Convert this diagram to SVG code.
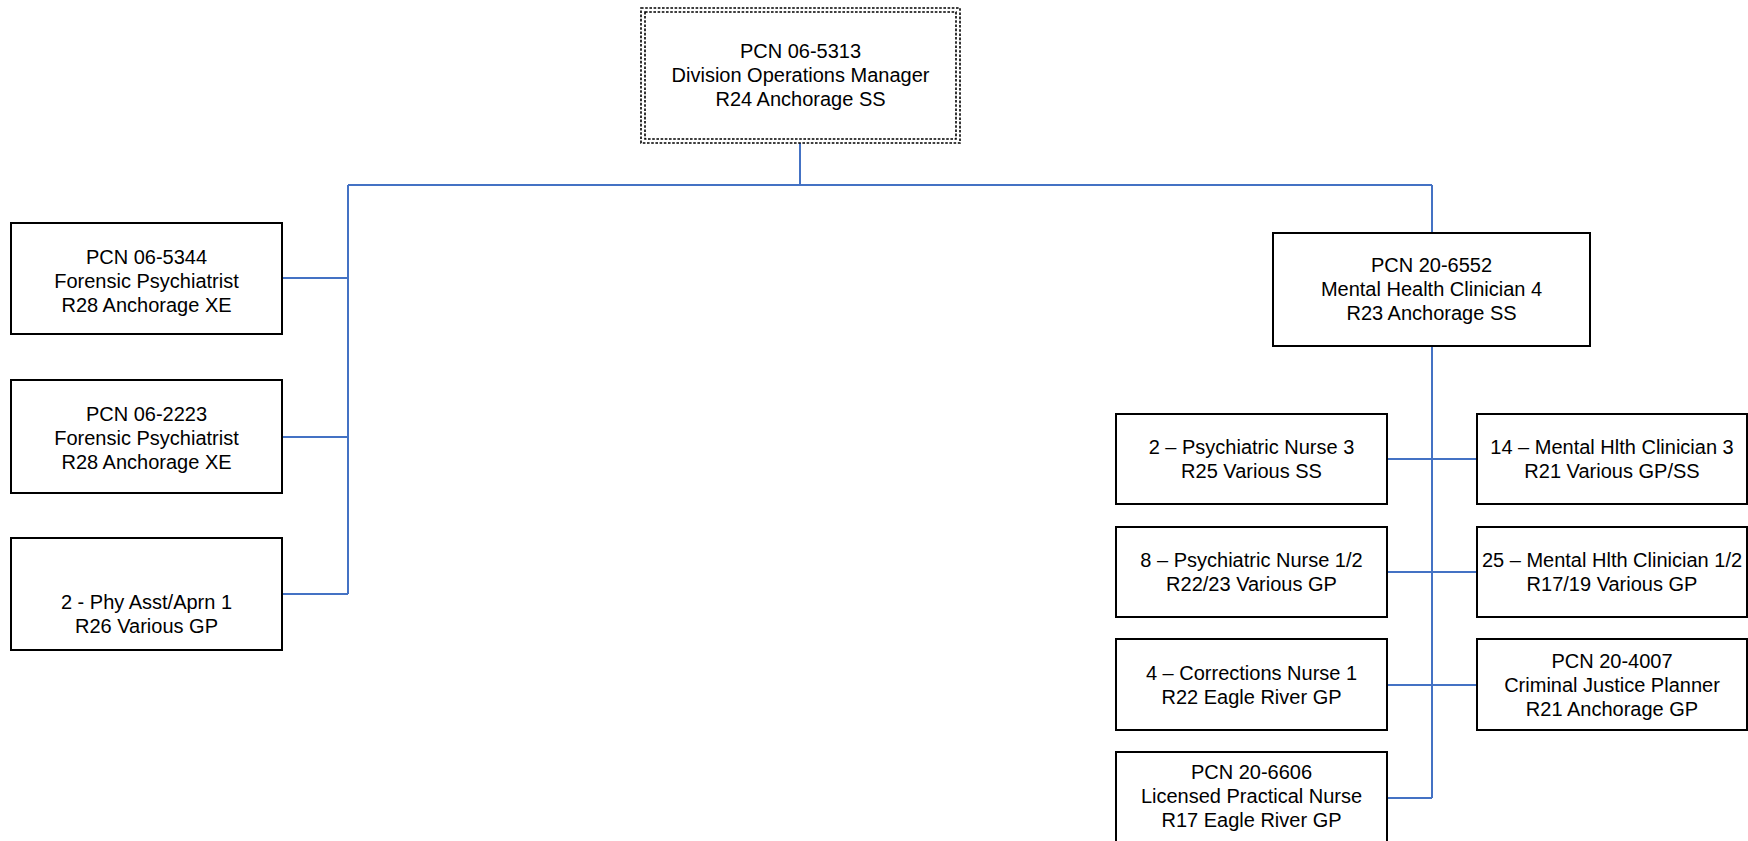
<svg xmlns="http://www.w3.org/2000/svg" width="1748" height="841" viewBox="0 0 1748 841">
<style>
.box{fill:#fff;stroke:#000;stroke-width:2}
.dot{fill:none;stroke:#000;stroke-width:1.6;stroke-dasharray:2.6 1.6}
.t{font-family:"Liberation Sans",Arial,sans-serif;font-size:20px;fill:#000;text-anchor:middle}
.c{fill:none;stroke:#4472C4;stroke-width:2}
</style>
<rect width="1748" height="841" fill="#fff"/>
<g id="connectors">
<path class="c" d="M800 143V185M348 185H1432M348 185V594M282 278H348M282 437H348M282 594H348M1432 185V233"/>
<path class="c" d="M1432 346V798M1387 459H1477M1387 572H1477M1387 685H1477M1387 798H1432"/>
</g>
<g id="n0">
<rect x="641" y="8" width="319" height="135" fill="#fff" class="dot"/>
<rect x="645" y="12" width="311" height="127" class="dot"/>
<text class="t" x="800.5" y="58">PCN 06-5313</text>
<text class="t" x="800.5" y="82">Division Operations Manager</text>
<text class="t" x="800.5" y="106">R24 Anchorage SS</text>
</g>
<g id="n1">
<rect class="box" x="11" y="223" width="271" height="111"/>
<text class="t" x="146.5" y="264">PCN 06-5344</text>
<text class="t" x="146.5" y="288">Forensic Psychiatrist</text>
<text class="t" x="146.5" y="312">R28 Anchorage XE</text>
</g>
<g id="n2">
<rect class="box" x="11" y="380" width="271" height="113"/>
<text class="t" x="146.5" y="421">PCN 06-2223</text>
<text class="t" x="146.5" y="445">Forensic Psychiatrist</text>
<text class="t" x="146.5" y="469">R28 Anchorage XE</text>
</g>
<g id="n3">
<rect class="box" x="11" y="538" width="271" height="112"/>
<text class="t" x="146.5" y="609">2 - Phy Asst/Aprn 1</text>
<text class="t" x="146.5" y="633">R26 Various GP</text>
</g>
<g id="n4">
<rect class="box" x="1273" y="233" width="317" height="113"/>
<text class="t" x="1431.5" y="272">PCN 20-6552</text>
<text class="t" x="1431.5" y="296">Mental Health Clinician 4</text>
<text class="t" x="1431.5" y="320">R23 Anchorage SS</text>
</g>
<g id="n5">
<rect class="box" x="1116" y="414" width="271" height="90"/>
<text class="t" x="1251.5" y="454">2 – Psychiatric Nurse 3</text>
<text class="t" x="1251.5" y="478">R25 Various SS</text>
</g>
<g id="n6">
<rect class="box" x="1477" y="414" width="270" height="90"/>
<text class="t" x="1612" y="454">14 – Mental Hlth Clinician 3</text>
<text class="t" x="1612" y="478">R21 Various GP/SS</text>
</g>
<g id="n7">
<rect class="box" x="1116" y="527" width="271" height="90"/>
<text class="t" x="1251.5" y="567">8 – Psychiatric Nurse 1/2</text>
<text class="t" x="1251.5" y="591">R22/23 Various GP</text>
</g>
<g id="n8">
<rect class="box" x="1477" y="527" width="270" height="90"/>
<text class="t" x="1612" y="567">25 – Mental Hlth Clinician 1/2</text>
<text class="t" x="1612" y="591">R17/19 Various GP</text>
</g>
<g id="n9">
<rect class="box" x="1116" y="639" width="271" height="91"/>
<text class="t" x="1251.5" y="680">4 – Corrections Nurse 1</text>
<text class="t" x="1251.5" y="704">R22 Eagle River GP</text>
</g>
<g id="n10">
<rect class="box" x="1477" y="639" width="270" height="91"/>
<text class="t" x="1612" y="668">PCN 20-4007</text>
<text class="t" x="1612" y="692">Criminal Justice Planner</text>
<text class="t" x="1612" y="716">R21 Anchorage GP</text>
</g>
<g id="n11">
<rect class="box" x="1116" y="752" width="271" height="93"/>
<text class="t" x="1251.5" y="779">PCN 20-6606</text>
<text class="t" x="1251.5" y="803">Licensed Practical Nurse</text>
<text class="t" x="1251.5" y="827">R17 Eagle River GP</text>
</g>
</svg>
